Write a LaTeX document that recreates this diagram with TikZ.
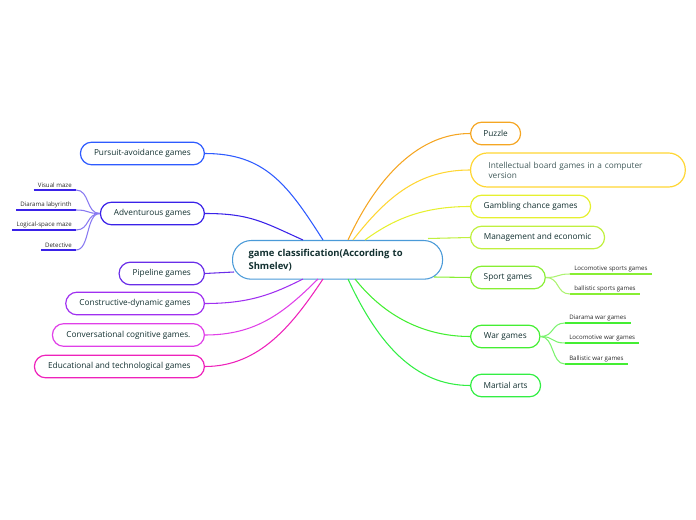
\documentclass[tikz,border=0pt]{standalone}
\usepackage{fontspec}
\setmainfont{Open Sans}
\usepackage{tikz}

\definecolor{txt}{HTML}{123030}
\definecolor{subtxt}{HTML}{2A2A2A}
\definecolor{cenline}{HTML}{4A9AD8}
\definecolor{cpur}{HTML}{2E5BFF}
\definecolor{cadv}{HTML}{3A22E8}
\definecolor{cpip}{HTML}{6A2EE8}
\definecolor{ccon}{HTML}{A030F0}
\definecolor{cconv}{HTML}{E040E8}
\definecolor{cedu}{HTML}{EE22BB}
\definecolor{cpuz}{HTML}{F5A623}
\definecolor{cint}{HTML}{FFD633}
\definecolor{cgam}{HTML}{E6F030}
\definecolor{cman}{HTML}{C0F040}
\definecolor{cspo}{HTML}{88EE33}
\definecolor{cwar}{HTML}{44EE33}
\definecolor{cmar}{HTML}{33EE44}

\tikzset{
  branch/.style={draw=#1, line width=0.9pt, rounded corners=8.5pt, minimum height=17pt,
    inner sep=0.75pt, text=txt, font=\fontsize{6.2}{7.5}\selectfont},
  leaf/.style={inner xsep=3pt, inner ysep=1.5pt, text=subtxt, font=\fontsize{4.6}{5.5}\selectfont},
  leafline/.style={draw=#1, line width=1.2pt},
  link/.style={draw=#1, line width=0.8pt},
}

\begin{document}
\begin{tikzpicture}[x=0.75pt,y=0.75pt,yscale=-1,xscale=1]
            \useasboundingbox (0,0) rectangle (696,520);

            % Central topic
            \node (cen) [draw=cenline, line width=0.8pt, rounded corners=14pt, minimum width=157.5pt,
              minimum height=29pt, inner xsep=0pt, text width=133.5pt, align=left, text=txt,
              font=\fontsize{7.1}{9.5}\selectfont\bfseries, anchor=north west] at (232,240)
              {game classification(According to\\Shmelev)};

            % Left branches
            \node (pur) [branch=cpur, minimum width=93pt, anchor=east] at (205,153.5) {Pursuit-avoidance games};
            \node (adv) [branch=cadv, minimum width=78pt, anchor=east] at (205,213.5) {Adventurous games};
            \node (pip) [branch=cpip, minimum width=64pt, anchor=east] at (205,273.5) {Pipeline games};
            \node (con) [branch=ccon, minimum width=104pt, anchor=east] at (205,303.5) {Constructive-dynamic games};
            \node (conv) [branch=cconv, minimum width=114pt, anchor=east] at (205,335) {Conversational cognitive games.};
            \node (edu) [branch=cedu, minimum width=127.5pt, anchor=east] at (205,366.5) {Educational and technological games};

            % Right branches
            \node (puz) [branch=cpuz, minimum width=37.5pt, anchor=west] at (470,133.5) {Puzzle};
            \node (int) [branch=cint, minimum width=161pt, minimum height=25.5pt, rounded corners=12.5pt,
              inner xsep=0pt, text width=134pt, align=left, text=txt!80, anchor=west] at (470,170)
              {Intellectual board games in a computer\\version};
            \node (gam) [branch=cgam, minimum width=90pt, anchor=west] at (470,206.5) {Gambling chance games};
            \node (man) [branch=cman, minimum width=100.5pt, anchor=west] at (470,237.5) {Management and economic};
            \node (spo) [branch=cspo, minimum width=56pt, anchor=west] at (470,277.5) {Sport games};
            \node (war) [branch=cwar, minimum width=52pt, anchor=west] at (470,336.5) {War games};
            \node (mar) [branch=cmar, minimum width=52.5pt, anchor=west] at (470,385.5) {Martial arts};

            % Sub topics
            \node (vis) [leaf, anchor=south east] at (76,190) {Visual maze};
            \node (dia) [leaf, anchor=south east] at (76,210) {Diarama labyrinth};
            \node (log) [leaf, anchor=south east] at (76,230) {Logical-space maze};
            \node (det) [leaf, anchor=south east] at (76,250) {Detective};
            \node (loc) [leaf, anchor=south west] at (570,274) {Locomotive sports games};
            \node (bal) [leaf, anchor=south west] at (570,294) {ballistic sports games};
            \node (dwar) [leaf, anchor=south west] at (565,323) {Diarama war games};
            \node (lwar) [leaf, anchor=south west] at (565,343) {Locomotive war games};
            \node (bwar) [leaf, anchor=south west] at (565,364) {Ballistic war games};

            \draw [leafline=cadv] (vis.south west) -- (vis.south east);
            \draw [leafline=cadv] (dia.south west) -- (dia.south east);
            \draw [leafline=cadv] (log.south west) -- (log.south east);
            \draw [leafline=cadv] (det.south west) -- (det.south east);
            \draw [leafline=cspo] (loc.south west) -- (loc.south east);
            \draw [leafline=cspo] (bal.south west) -- (bal.south east);
            \draw [leafline=cwar] (dwar.south west) -- (dwar.south east);
            \draw [leafline=cwar] (lwar.south west) -- (lwar.south east);
            \draw [leafline=cwar] (bwar.south west) -- (bwar.south east);

            % Ends on the central topic
            \coordinate (e-pur) at (323,240);
            \coordinate (e-adv) at (303,240);
            \coordinate (e-pip) at (234,272);
            \coordinate (e-con) at (303,279);
            \coordinate (e-conv) at (318,279);
            \coordinate (e-edu) at (323,279);
            \coordinate (e-puz) at (348,240);
            \coordinate (e-int) at (353,240);
            \coordinate (e-gam) at (365,240);
            \coordinate (e-man) at (428,238.5);
            \coordinate (e-spo) at (434,277);
            \coordinate (e-war) at (355,279);
            \coordinate (e-mar) at (348,279);

            % Lines
            \draw [link=cpur] (pur.east) .. controls +(60,0) and +(-35,-55) .. (e-pur);
            \draw [link=cadv] (adv.east) .. controls +(45,0) and +(-40,-18) .. (e-adv);
            \draw [link=cpip] (pip.east) -- (e-pip);
            \draw [link=ccon] (con.east) .. controls +(45,0) and +(-30,15) .. (e-con);
            \draw [link=cconv] (conv.east) .. controls +(50,0) and +(-35,35) .. (e-conv);
            \draw [link=cedu] (edu.east) .. controls +(55,0) and +(-30,45) .. (e-edu);
            \draw [link=cpuz] (e-puz) .. controls +(30,-65) and +(-50,0) .. (puz.west);
            \draw [link=cint] (e-int) .. controls +(35,-45) and +(-50,0) .. (int.west);
            \draw [link=cgam] (e-gam) .. controls +(30,-22) and +(-45,0) .. (gam.west);
            \draw [link=cman] (e-man) -- (man.west);
            \draw [link=cspo] (e-spo) -- (spo.west);
            \draw [link=cwar] (e-war) .. controls +(30,38) and +(-45,0) .. (war.west);
            \draw [link=cmar] (e-mar) .. controls +(30,65) and +(-55,0) .. (mar.west);

            \draw [link=cadv!60] (adv.west) .. controls +(-14,0) and +(14,0) .. (vis.south east);
            \draw [link=cadv!60] (adv.west) .. controls +(-14,0) and +(14,0) .. (dia.south east);
            \draw [link=cadv!60] (adv.west) .. controls +(-14,0) and +(14,0) .. (log.south east);
            \draw [link=cadv!60] (adv.west) .. controls +(-14,0) and +(14,0) .. (det.south east);
            \draw [link=cspo!70] (spo.east) .. controls +(14,0) and +(-14,0) .. (loc.south west);
            \draw [link=cspo!70] (spo.east) .. controls +(14,0) and +(-14,0) .. (bal.south west);
            \draw [link=cwar!70] (war.east) .. controls +(14,0) and +(-14,0) .. (dwar.south west);
            \draw [link=cwar!70] (war.east) .. controls +(14,0) and +(-14,0) .. (lwar.south west);
            \draw [link=cwar!70] (war.east) .. controls +(14,0) and +(-14,0) .. (bwar.south west);

\end{tikzpicture}
\end{document}
